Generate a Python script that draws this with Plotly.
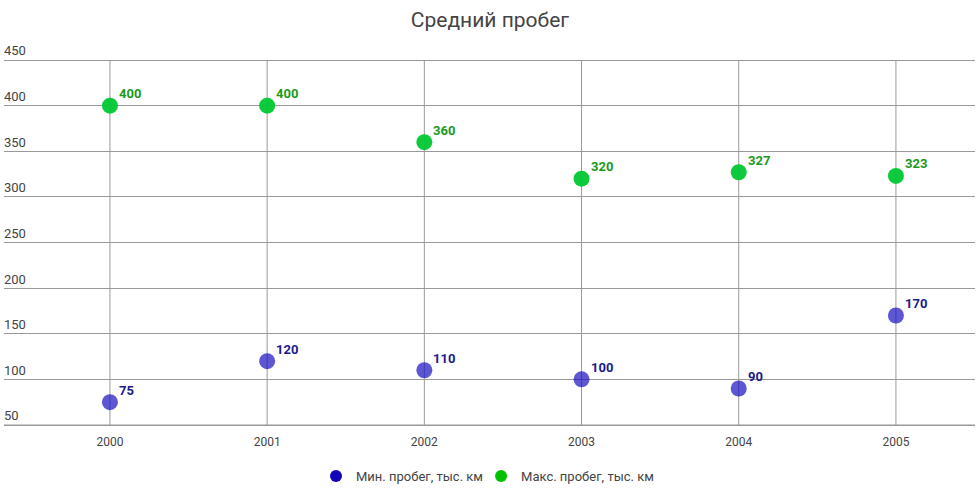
import plotly.graph_objects as go

years = ["2000", "2001", "2002", "2003", "2004", "2005"]
min_run = [75, 120, 110, 100, 90, 170]
max_run = [400, 400, 360, 320, 327, 323]
y_ticks = [50, 100, 150, 200, 250, 300, 350, 400, 450]

xs = list(range(len(years)))
font = "Roboto"
grid = "#999"

fig = go.Figure()
fig.add_trace(go.Scatter(
    x=xs, y=min_run, mode="markers", showlegend=False,
    marker=dict(size=16, color="#1a0fc0", opacity=0.7),
))
fig.add_trace(go.Scatter(
    x=xs, y=max_run, mode="markers", showlegend=False,
    marker=dict(size=16, color="#00c832", opacity=0.95),
))
fig.add_trace(go.Scatter(x=[None], y=[None], mode="markers", name="Мин. пробег, тыс. км",
                         marker=dict(size=16, color="#1306b8"), legend="legend"))
fig.add_trace(go.Scatter(x=[None], y=[None], mode="markers", name="Макс. пробег, тыс. км",
                         marker=dict(size=16, color="#00c000"), legend="legend2"))

for series, col in ((min_run, "#1a1a8c"), (max_run, "#1a9a1a")):
    for x, v in zip(xs, series):
        fig.add_annotation(x=x, y=v, text=str(v), showarrow=False,
                           xanchor="left", yanchor="middle", xshift=7, yshift=12,
                           font=dict(family=font, size=13, color=col, weight="bold"))

for x in xs:
    fig.add_shape(type="line", xref="x", yref="y", x0=x, x1=x, y0=50, y1=450,
                  line=dict(color=grid, width=1), layer="below")
fig.add_shape(type="line", xref="paper", yref="y", x0=0, x1=1, y0=50, y1=50,
              line=dict(color=grid, width=1), layer="below")

leg_common = dict(orientation="h", yanchor="middle", y=-0.115, xanchor="left",
                  bgcolor="rgba(0,0,0,0)",
                  font=dict(family=font, size=13, color="#444"), itemsizing="constant")

fig.update_layout(
    width=980, height=498,
    margin=dict(l=4, r=5, t=30, b=68, autoexpand=False),
    paper_bgcolor="white", plot_bgcolor="white",
    title=dict(text="Средний пробег", x=0.5, xanchor="center", y=0.96, yanchor="middle",
               font=dict(family=font, size=21, color="#444")),
    font=dict(family=font, size=12, color="#444"),
    showlegend=True,
    legend=dict(x=0.3213, **leg_common),
    legend2=dict(x=0.4913, **leg_common),
    xaxis=dict(range=[-0.674, 5.503], tickvals=xs, ticktext=years,
               showgrid=False, zeroline=False, showline=False, ticks="",
               ticklabelstandoff=3, tickfont=dict(size=12, color="#444")),
    yaxis=dict(range=[44.52, 482.88], tickvals=y_ticks, showgrid=True, gridcolor=grid,
               zeroline=False, showline=False, ticks="", ticklabelstandoff=-3,
               ticklabelposition="inside top", tickfont=dict(size=13, color="#444")),
)
fig.write_html("out.html")
